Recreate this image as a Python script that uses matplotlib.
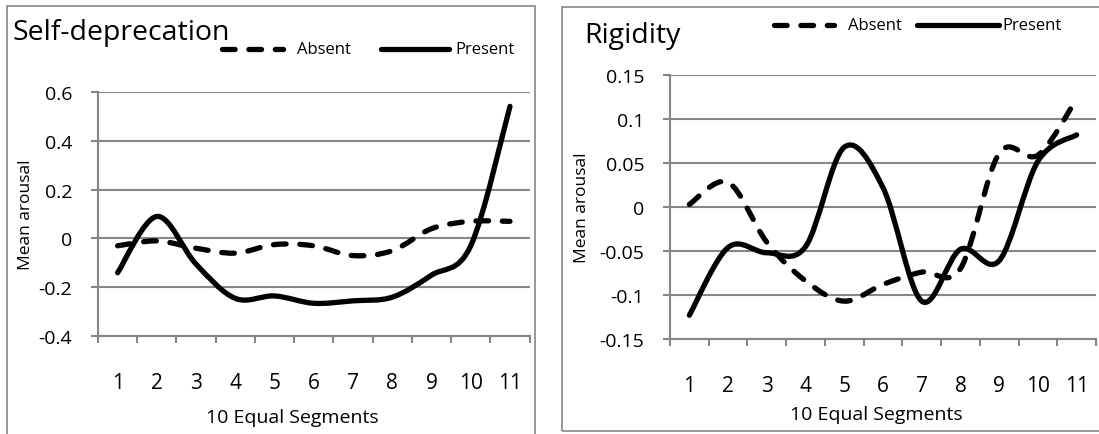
import matplotlib
matplotlib.use("Agg")
import matplotlib.pyplot as plt
from matplotlib.path import Path
from matplotlib.patches import PathPatch, Rectangle
from matplotlib.lines import Line2D
from matplotlib.ticker import FixedLocator, FixedFormatter, NullFormatter

plt.rcParams['font.family'] = ['Open Sans', 'DejaVu Sans']

# ---- data -------------------------------------------------------------
segments = [1, 2, 3, 4, 5, 6, 7, 8, 9, 10, 11]
series_names = ["Absent", "Present"]

self_dep_absent = [-0.03, -0.01, -0.04, -0.06, -0.025, -0.03, -0.07, -0.05, 0.04, 0.07, 0.07]
self_dep_present = [-0.14, 0.09, -0.105, -0.245, -0.235, -0.265, -0.255, -0.24, -0.15, -0.03, 0.54]

rigidity_absent = [0.003, 0.028, -0.04, -0.084, -0.107, -0.088, -0.074, -0.07, 0.061, 0.059, 0.123]
rigidity_present = [-0.123, -0.046, -0.052, -0.045, 0.068, 0.022, -0.107, -0.048, -0.061, 0.052, 0.082]

self_dep_yticks = [-0.4, -0.2, 0.0, 0.2, 0.4, 0.6]
self_dep_ylabels = ["-0.4", "-0.2", "0", "0.2", "0.4", "0.6"]
rigidity_yticks = [-0.15, -0.1, -0.05, 0.0, 0.05, 0.1, 0.15]
rigidity_ylabels = ["-0.15", "-0.1", "-0.05", "0", "0.05", "0.1", "0.15"]

# ---- layout -----------------------------------------------------------
W, H = 1099, 435
GRID = "#868686"
DASH = (0, (2.4, 2.6))

fig = plt.figure(figsize=(W / 100, H / 100), dpi=100)


def fx(px):
    return px / W


def fy(py):
    return 1 - py / H


def smooth_path(xs, ys):
    """Cubic Bezier path through every point (Catmull-Rom style smoothing)."""
    pts = list(zip(xs, ys))
    n = len(pts)
    verts = [pts[0]]
    codes = [Path.MOVETO]
    for i in range(n - 1):
        p0 = pts[max(i - 1, 0)]
        p1 = pts[i]
        p2 = pts[i + 1]
        p3 = pts[min(i + 2, n - 1)]
        c1 = (p1[0] + (p2[0] - p0[0]) / 6, p1[1] + (p2[1] - p0[1]) / 6)
        c2 = (p2[0] - (p3[0] - p1[0]) / 6, p2[1] - (p3[1] - p1[1]) / 6)
        verts += [c1, c2, p2]
        codes += [Path.CURVE4] * 3
    return Path(verts, codes)


def draw_series(ax, ys, dashed):
    patch = PathPatch(smooth_path(segments, ys), fill=False, edgecolor="black",
                      lw=3.8, linestyle=DASH if dashed else "-",
                      capstyle="round", joinstyle="round", zorder=3)
    ax.add_patch(patch)


def style_axes(ax, ylim, yticks, ylabels, ytick_size, xtick_size):
    ax.set_xlim(0.5, len(segments) + 0.5)
    ax.set_ylim(*ylim)
    for side in ("top", "right"):
        ax.spines[side].set_visible(False)
    for side in ("left", "bottom"):
        ax.spines[side].set_color(GRID)
        ax.spines[side].set_linewidth(1.5)
    ax.yaxis.set_major_locator(FixedLocator(yticks))
    ax.yaxis.set_major_formatter(FixedFormatter(ylabels))
    ax.xaxis.set_major_locator(FixedLocator(segments))
    ax.xaxis.set_major_formatter(FixedFormatter([str(s) for s in segments]))
    ax.xaxis.set_minor_locator(FixedLocator([s - 0.5 for s in segments] + [segments[-1] + 0.5]))
    ax.xaxis.set_minor_formatter(NullFormatter())
    ax.tick_params(axis="y", which="major", length=5, width=1.5, color=GRID,
                   pad=13.5, labelsize=ytick_size)
    ax.tick_params(axis="x", which="major", length=0, pad=26, labelsize=xtick_size)
    ax.tick_params(axis="x", which="minor", length=5, width=1.5, color=GRID)
    ax.grid(axis="y", color=GRID, lw=1.5)
    ax.set_axisbelow(True)


def legend_row(y_px, entries):
    for x0, x1, dashed, tx, label in entries:
        fig.add_artist(Line2D([fx(x0), fx(x1)], [fy(y_px), fy(y_px)],
                              transform=fig.transFigure, color="black", lw=3.8,
                              linestyle=DASH if dashed else "-",
                              dash_capstyle="round", solid_capstyle="round"))
        fig.text(fx(tx), fy(y_px), label, fontsize=12, va="center", ha="left")


# panel frames
fig.add_artist(Rectangle((fx(7), fy(445)), fx(535) - fx(7), fy(7) - fy(445),
                         transform=fig.transFigure, fill=False, edgecolor=GRID, lw=1.2))
fig.add_artist(Rectangle((fx(562), fy(432)), fx(1104) - fx(562), fy(8) - fy(432),
                         transform=fig.transFigure, fill=False, edgecolor=GRID, lw=1.2))

# ---- left panel: Self-deprecation ------------------------------------------
ax1 = fig.add_axes([fx(98), fy(337.3), fx(529.6) - fx(98), fy(92.7) - fy(337.3)])
style_axes(ax1, (-0.4, 0.6), self_dep_yticks, self_dep_ylabels, 14, 15)
draw_series(ax1, self_dep_absent, True)
draw_series(ax1, self_dep_present, False)
fig.text(fx(12), fy(40), "Self-deprecation", fontsize=20.5, va="baseline", ha="left")
fig.text(fx(26), fy(215), "Mean arousal", fontsize=12.5, rotation=90, va="center", ha="center")
fig.text(fx(292), fy(418), "10 Equal Segments", fontsize=14, va="center", ha="center")
legend_row(50, [(222, 283, True, 297, series_names[0]),
                (381, 449, False, 455, series_names[1])])

# ---- right panel: Rigidity -------------------------------------------------
ax2 = fig.add_axes([fx(670), fy(340), fx(1096) - fx(670), fy(76) - fy(340)])
style_axes(ax2, (-0.15, 0.15), rigidity_yticks, rigidity_ylabels, 14, 15)
draw_series(ax2, rigidity_absent, True)
draw_series(ax2, rigidity_present, False)
fig.text(fx(584), fy(43), "Rigidity", fontsize=20.5, va="baseline", ha="left")
fig.text(fx(582), fy(208), "Mean arousal", fontsize=12.5, rotation=90, va="center", ha="center")
fig.text(fx(876), fy(415), "10 Equal Segments", fontsize=14, va="center", ha="center")
legend_row(26, [(774, 834, True, 848, series_names[0]),
                (917, 999, False, 1002, series_names[1])])

fig.savefig("out.png", dpi=100)
